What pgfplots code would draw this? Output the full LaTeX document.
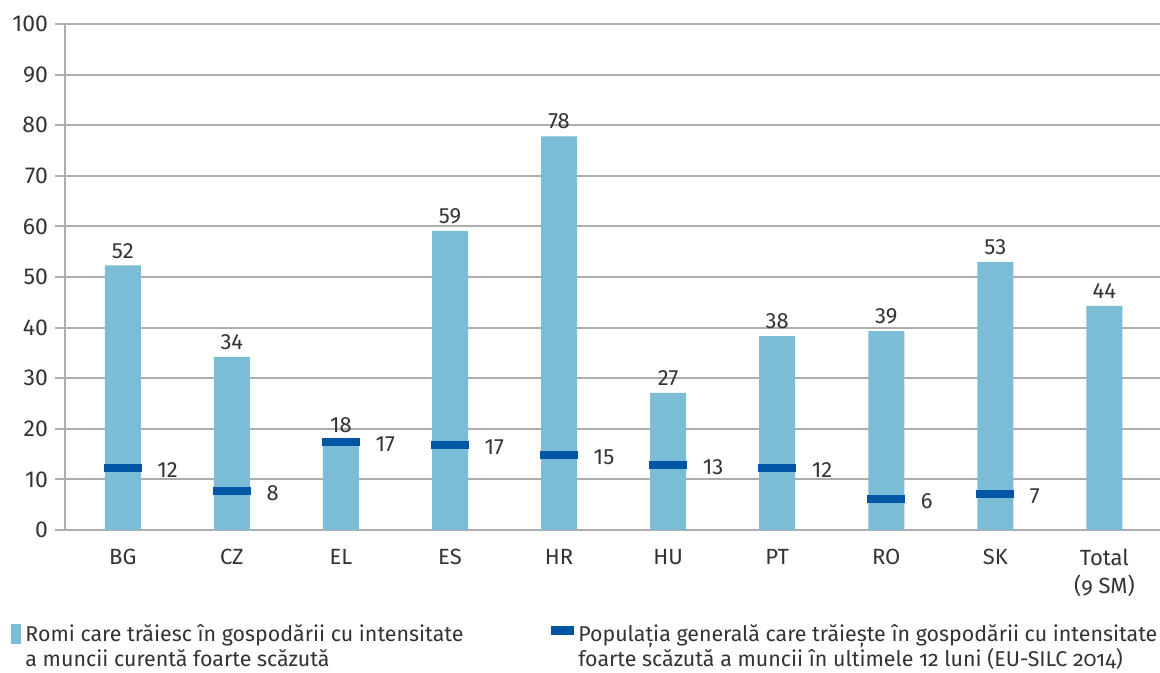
\documentclass[border=0pt]{standalone}
\usepackage{fontspec}
\setmainfont{Fira Sans}
\newfontfamily\osf[Numbers=OldStyle]{Fira Sans}
\usepackage{pgfplots}
\pgfplotsset{compat=1.18}
\definecolor{barblue}{HTML}{7BBCD7}
\definecolor{darkblue}{HTML}{0055A4}
\definecolor{gridgray}{HTML}{ADADAD}
\definecolor{txt}{HTML}{333333}

\begin{document}
\begin{tikzpicture}
\begin{axis}[
    scale only axis,
    width=547.5pt, height=253pt,
    xmin=-0.53, xmax=9.51, ymin=0, ymax=100,
    enlargelimits=false,
    axis lines=left,
    axis line style={-, gridgray, line width=1pt},
    ymajorgrids, grid style={gridgray, line width=1pt},
    ytick={0,10,...,100},
    xtick={0,...,9},
    xticklabels={BG,CZ,EL,ES,HR,HU,PT,RO,SK,{Total\\{\osf(9 SM)}}},
    xticklabel style={align=center, yshift=-1pt, font=\fontsize{11}{14}\selectfont, text=txt},
    yticklabel style={font=\fontsize{11.5}{14}\selectfont, text=txt},
    /pgf/number format/assume math mode=true,
    x tick style={draw=none},
    y tick style={gridgray, line width=1pt},
    tick align=outside, major tick length=5pt,
    legend style={at={(axis description cs:0,0)}, anchor=north west,
        xshift=-30pt, yshift=-43pt, draw=none, legend columns=2,
        font=\fontsize{10.7}{12.5}\selectfont\osf, text=txt,
        cells={align=left, anchor=west},
        /tikz/every even column/.append style={column sep=42pt}},
]
\addplot[ybar, bar shift=0pt, bar width=18pt, fill=barblue, draw=none,
    point meta=explicit symbolic, nodes near coords,
    nodes near coords style={font=\fontsize{11}{13}\selectfont, text=txt},
    legend image code/.code={\fill[barblue] (0pt,1.5pt) rectangle (5pt,11.5pt);}]
coordinates {(0,52.3)[52] (1,34.2)[34] (2,17.9)[18] (3,59.1)[59] (4,77.8)[78]
    (5,27.1)[27] (6,38.3)[38] (7,39.3)[39] (8,53.0)[53] (9,44.3)[44]};
\addlegendentry{Romi care trăiesc în gospodării cu intensitate\\a muncii curentă foarte scăzută}
\addplot[only marks, mark=-, mark size=9.5pt, mark options={line width=4pt, darkblue},
    point meta=explicit symbolic, nodes near coords,
    nodes near coords style={anchor=west, xshift=12pt, yshift=-1pt, font=\fontsize{11}{13}\selectfont, text=txt},
    legend image code/.code={\fill[darkblue] (0pt,6pt) rectangle (11pt,10pt);}]
coordinates {(0,12.2)[12] (1,7.7)[8] (2,17.4)[17] (3,16.8)[17] (4,14.8)[15]
    (5,12.8)[13] (6,12.2)[12] (7,6.1)[6] (8,7.1)[7]};
\addlegendentry{Populația generală care trăiește în gospodării cu intensitate\\foarte scăzută a muncii în ultimele 12 luni (EU-SILC 2014)}
\end{axis}
\pgfresetboundingbox
\path ([xshift=-32.5pt,yshift=-71.5pt]current axis.south west) rectangle ([yshift=12pt]current axis.north east);
\end{tikzpicture}
\end{document}
